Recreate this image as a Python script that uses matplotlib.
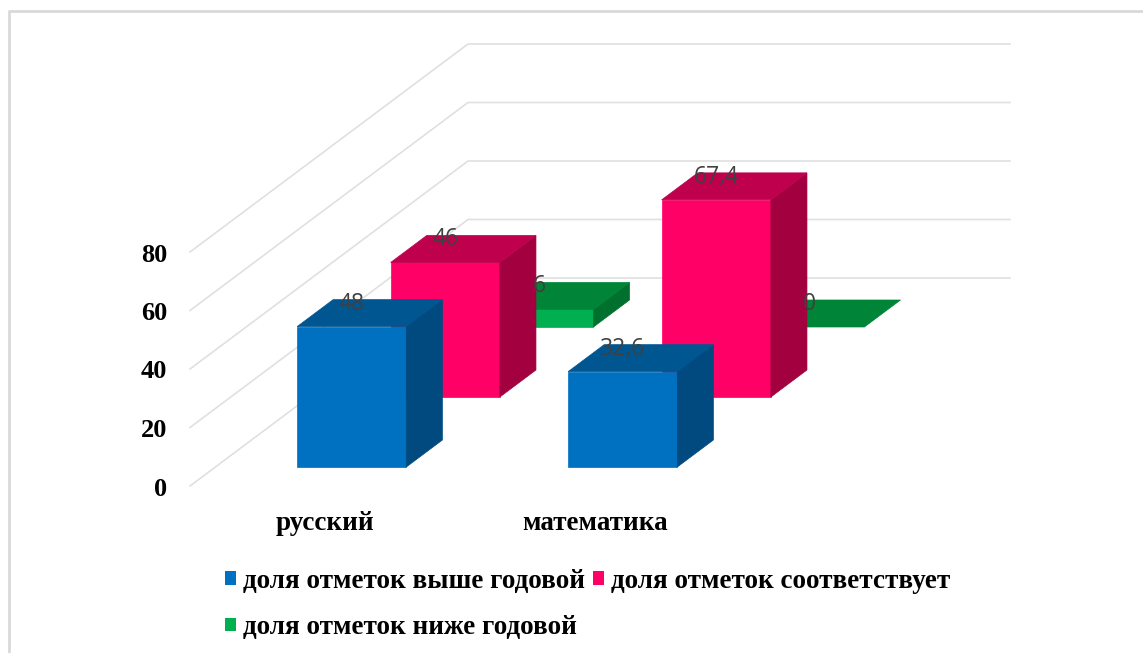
import matplotlib
matplotlib.use("Agg")
import matplotlib.pyplot as plt
from matplotlib.patches import Polygon, Patch

# Datos
categorias = ["русский", "математика"]
serie_nombres = ["доля отметок выше годовой", "доля отметок соответствует", "доля отметок ниже годовой"]
serie_valores = [[48, 32.6], [46, 67.4], [6, 0]]
serie_etiquetas = [["48", "32,6"], ["46", "67,4"], ["6", "0"]]
ticks = [0, 20, 40, 60, 80]

colores = ["#0070C0", "#FF0066", "#00B050"]
colores_top = ["#005690", "#BF004D", "#008538"]
colores_lado = ["#004A80", "#A3003F", "#00702E"]

# Geometria de la proyeccion oblicua (pixeles de la figura)
X0, Y0 = 190, 486
ANCHO_CAT = 271
ESCALA = 2.925
PROF_DX, PROF_DY = 278, 208
ANCHO_BARRA = 0.403
PROF_BARRA = 27 / 208
PASO_SERIE = 70 / 208
INICIO_SERIE = 19 / 208


def proy(cat, prof, valor):
    # cat en unidades de categoria, prof de 0 (frente) a 1 (fondo)
    return (X0 + cat * ANCHO_CAT + prof * PROF_DX,
            Y0 - prof * PROF_DY - valor * ESCALA)


fig = plt.figure(figsize=(11.43, 6.53), dpi=100)
ax = fig.add_axes([0, 0, 1, 1])
ax.set_xlim(0, 1143)
ax.set_ylim(653, 0)
ax.axis("off")

# Marco exterior
ax.plot([9, 9, 1143], [653, 11, 11], color="#D9D9D9", lw=2, zorder=1)

# Rejilla: pared lateral y pared del fondo
n_cat = len(categorias)
for t in ticks:
    xs, ys = zip(proy(0, 0, t), proy(0, 1, t), proy(n_cat, 1, t))
    ax.plot(xs, ys, color="#E0E0E0", lw=1.2, zorder=2)
    ax.text(X0 - 23, proy(0, 0, t)[1] + 3, str(t), ha="right", va="center",
            family="Liberation Serif", weight="bold", fontsize=19, color="black")

# Barras de atras hacia adelante
z = 3
for s in [2, 1, 0]:
    p0 = INICIO_SERIE + s * PASO_SERIE
    p1 = p0 + PROF_BARRA
    for c, v in enumerate(serie_valores[s]):
        izq = c + 0.503 - ANCHO_BARRA / 2
        der = c + 0.503 + ANCHO_BARRA / 2
        if v > 0:
            ax.add_patch(Polygon([proy(izq, p0, 0), proy(der, p0, 0), proy(der, p0, v), proy(izq, p0, v)],
                                 facecolor=colores[s], edgecolor=colores[s], lw=0.5, zorder=z))
            ax.add_patch(Polygon([proy(der, p0, 0), proy(der, p1, 0), proy(der, p1, v), proy(der, p0, v)],
                                 facecolor=colores_lado[s], edgecolor=colores_lado[s], lw=0.5, zorder=z))
        ax.add_patch(Polygon([proy(izq, p0, v), proy(der, p0, v), proy(der, p1, v), proy(izq, p1, v)],
                             facecolor=colores_top[s], edgecolor=colores_top[s], lw=0.5, zorder=z))
    z += 1

# Etiquetas de datos encima de todo
for s in range(3):
    p0 = INICIO_SERIE + s * PASO_SERIE
    for c, v in enumerate(serie_valores[s]):
        x, y = proy(c + 0.503, p0, v)
        ax.text(x, y - 23, serie_etiquetas[s][c], ha="center", va="center",
                family="Open Sans", fontsize=16.5, color="#404040", zorder=10)

# Categorias
cat_x = [325, 595.5]
for x, nombre in zip(cat_x, categorias):
    ax.text(x, 523, nombre, ha="center", va="center",
            family="Liberation Serif", weight="bold", fontsize=19.5, color="black")

# Leyenda
orden = [0, 2, 1]
handles = [Patch(facecolor=colores[i], edgecolor="none", label=serie_nombres[i]) for i in orden]
ley = ax.legend(handles=handles, ncol=2, loc="upper left", bbox_to_anchor=(225 / 1143, 1 - 569 / 653),
                frameon=False, handlelength=0.41, handleheight=0.41, handletextpad=0.26,
                columnspacing=0.3, labelspacing=0.78, borderaxespad=0, borderpad=0,
                prop={"family": "Liberation Serif", "weight": "bold", "size": 19.5})

fig.savefig("out.png", dpi=100)
